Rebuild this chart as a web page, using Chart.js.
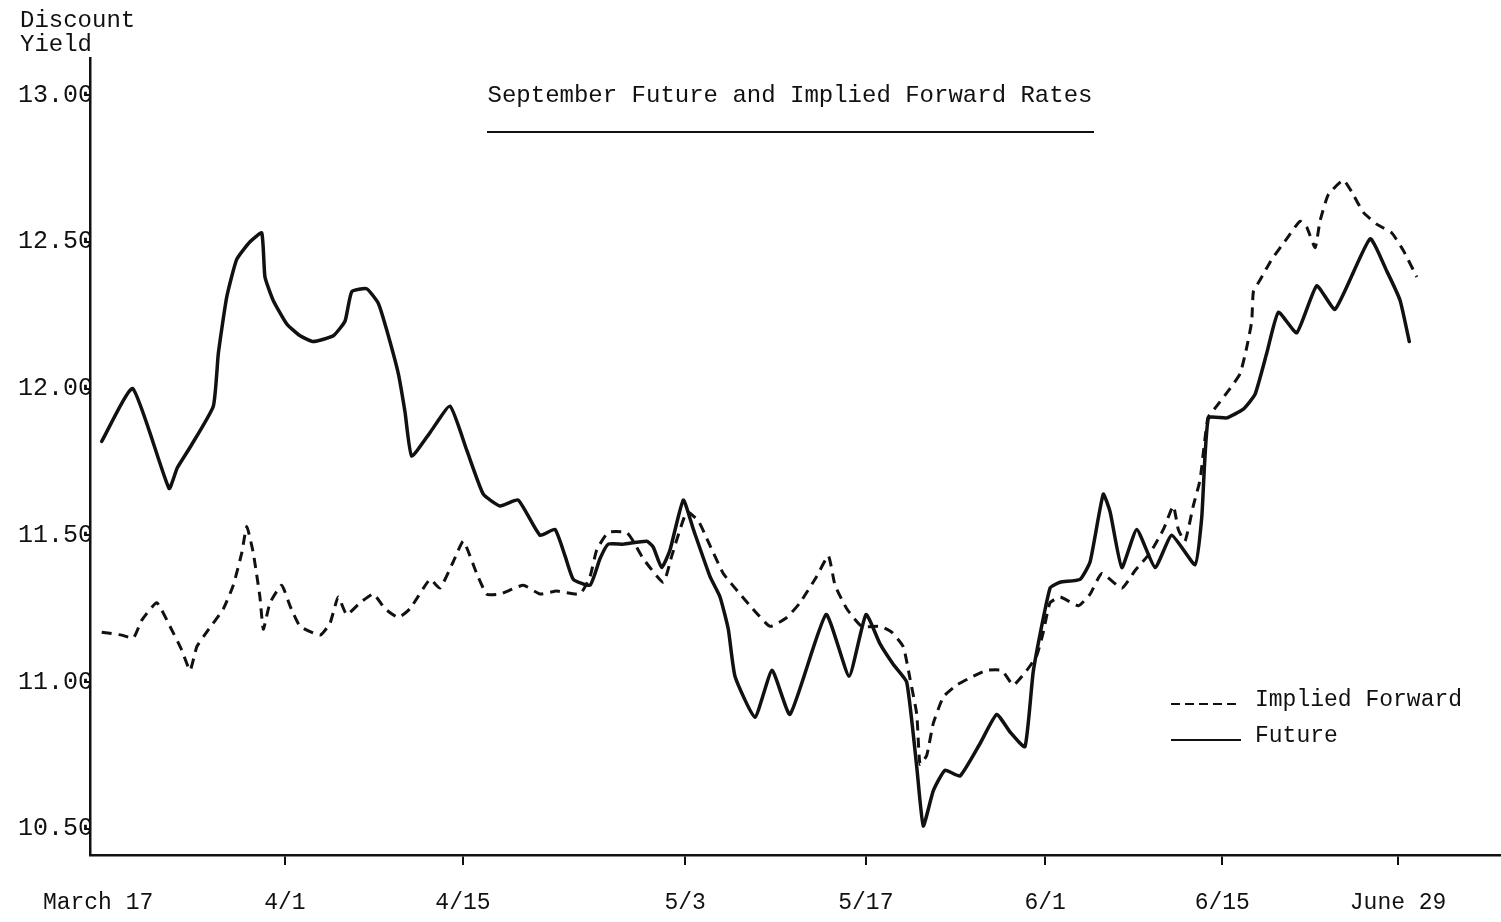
<!DOCTYPE html>
<html>
<head>
<meta charset="utf-8">
<title>September Future and Implied Forward Rates</title>
<script src="https://cdn.jsdelivr.net/npm/chart.js@4.4.1/dist/chart.umd.min.js"></script>
<style>
  html, body { margin: 0; padding: 0; background: #fff; }
  #wrap { width: 1501px; height: 922px; position: relative; }
</style>
</head>
<body>
<div id="wrap"><canvas id="chartTaxas"></canvas></div>
<script>
// trading days counted from March 17
var futureDays = [0.65, 2.37, 4.39, 4.85, 5.56, 6.85, 7.13, 7.59, 8.15, 8.89,
  9.54, 9.72, 10.18, 10.93, 11.67, 12.41, 13.52, 14.17, 14.54, 15.37,
  16.02, 16.48, 17.13, 17.5, 17.87, 18.89, 20.0, 20.93, 21.85, 22.78,
  23.79, 25.0, 25.83, 26.39, 26.85, 27.78, 28.33, 28.79, 29.63, 30.93,
  31.29, 31.76, 32.22, 32.96, 33.52, 34.44, 35.0, 35.46, 35.83, 36.94,
  37.89, 38.89, 40.89, 42.17, 43.11, 43.89, 44.63, 45.37, 45.93, 46.29,
  46.85, 47.5, 48.33, 49.44, 50.37, 51.11, 51.94, 52.41, 53.33, 53.89,
  55.0, 55.56, 56.29, 56.67, 57.32, 58.15, 59.17, 60.09, 61.39, 61.76,
  62.13, 63.15, 64.07, 64.72, 65.37, 66.02, 67.04, 68.15, 69.17, 71.11,
  72.04, 72.78, 73.29];
var futureYield = [11.82, 12.00, 11.66, 11.73, 11.80, 11.94, 12.12, 12.31, 12.44, 12.50,
  12.53, 12.38, 12.30, 12.22, 12.18, 12.16, 12.18, 12.23, 12.33, 12.34,
  12.29, 12.20, 12.05, 11.92, 11.77, 11.85, 11.94, 11.79, 11.64, 11.60,
  11.62, 11.50, 11.52, 11.43, 11.35, 11.33, 11.42, 11.47, 11.47, 11.48,
  11.46, 11.39, 11.45, 11.62, 11.52, 11.36, 11.29, 11.18, 11.02, 10.88,
  11.04, 10.89, 11.23, 11.02, 11.23, 11.13, 11.06, 11.00, 10.71, 10.51,
  10.63, 10.70, 10.68, 10.79, 10.89, 10.83, 10.78, 11.04, 11.32, 11.34,
  11.35, 11.41, 11.64, 11.58, 11.39, 11.52, 11.39, 11.50, 11.40, 11.56,
  11.90, 11.90, 11.93, 11.98, 12.12, 12.26, 12.19, 12.35, 12.27, 12.51,
  12.40, 12.30, 12.16];

var forwardDays = [0.65, 1.76, 2.41, 2.87, 3.71, 4.44, 5.09, 5.56, 5.93, 6.48,
  7.41, 7.96, 8.43, 8.71, 9.07, 9.44, 9.63, 10.0, 10.65, 11.11,
  11.67, 12.78, 13.33, 13.79, 14.26, 15.0, 15.74, 16.39, 17.13, 17.78,
  18.89, 19.44, 20.18, 20.74, 21.48, 22.04, 22.78, 24.07, 25.0, 25.93,
  27.22, 27.78, 28.15, 28.79, 29.81, 30.18, 30.74, 31.85, 32.32, 33.15,
  33.79, 34.26, 35.18, 36.11, 36.67, 37.78, 38.71, 39.44, 40.37, 41.02,
  41.39, 42.04, 42.87, 43.89, 44.54, 45.18, 45.56, 45.93, 46.11, 46.48,
  46.85, 47.41, 48.15, 49.07, 49.81, 50.65, 51.29, 52.04, 52.59, 52.96,
  53.33, 53.89, 54.91, 55.56, 56.21, 57.32, 58.06, 58.89, 59.63, 60.18,
  60.46, 60.83, 61.29, 61.67, 62.1, 62.59, 63.33, 63.89, 64.26, 64.54,
  64.63, 65.0, 65.65, 66.48, 67.22, 67.59, 68.06, 68.33, 68.79, 69.63,
  70.09, 70.74, 71.48, 72.32, 72.96, 73.71];
var forwardYield = [11.17, 11.16, 11.15, 11.21, 11.27, 11.19, 11.11, 11.04, 11.12, 11.17,
  11.25, 11.33, 11.44, 11.53, 11.44, 11.29, 11.18, 11.27, 11.33, 11.26,
  11.19, 11.16, 11.20, 11.29, 11.23, 11.27, 11.30, 11.25, 11.22, 11.25,
  11.35, 11.32, 11.41, 11.48, 11.37, 11.30, 11.30, 11.33, 11.30, 11.31,
  11.30, 11.36, 11.45, 11.51, 11.51, 11.48, 11.42, 11.34, 11.43, 11.58,
  11.55, 11.49, 11.37, 11.30, 11.26, 11.19, 11.22, 11.27, 11.36, 11.43,
  11.33, 11.25, 11.19, 11.19, 11.17, 11.12, 11.01, 10.89, 10.72, 10.75,
  10.86, 10.95, 10.99, 11.02, 11.04, 11.04, 10.99, 11.04, 11.09, 11.17,
  11.27, 11.29, 11.26, 11.30, 11.37, 11.32, 11.38, 11.44, 11.52, 11.60,
  11.52, 11.48, 11.60, 11.69, 11.90, 11.94, 12.00, 12.05, 12.14, 12.23,
  12.33, 12.37, 12.44, 12.51, 12.57, 12.55, 12.48, 12.57, 12.66, 12.71,
  12.67, 12.60, 12.56, 12.53, 12.47, 12.38];

var xTickDays = [0.45, 10.83, 20.72, 33.06, 43.1, 53.06, 62.9, 72.67];
var xTickLabels = ["March 17", "4/1", "4/15", "5/3", "5/17", "6/1", "6/15", "June 29"];
var yTickValues = [10.5, 11.0, 11.5, 12.0, 12.5, 13.0];

var chartTitle = "September Future and Implied Forward Rates";
var yTitleLines = ["Discount", "Yield"];

var FONTE = "'Liberation Mono', 'DejaVu Sans Mono', monospace";
var TINTA = "#111";

function pares(xs, ys) {
  return xs.map(function (x, i) { return { x: x, y: ys[i] }; });
}

// title, axis caption and legend drawn straight onto the canvas
var textosPlugin = {
  id: "textos",
  afterDraw: function (chart) {
    var ctx = chart.ctx;
    ctx.save();
    ctx.fillStyle = TINTA;
    ctx.strokeStyle = TINTA;
    ctx.textBaseline = "middle";

    ctx.font = "24px " + FONTE;
    ctx.textAlign = "left";
    ctx.fillText(yTitleLines[0], 20, 21);
    ctx.fillText(yTitleLines[1], 20, 45);

    ctx.textAlign = "center";
    ctx.fillText(chartTitle, 790, 96);
    ctx.lineWidth = 2;
    ctx.beginPath();
    ctx.moveTo(487, 132);
    ctx.lineTo(1094, 132);
    ctx.stroke();

    var ds = chart.data.datasets;
    ctx.font = "23px " + FONTE;
    ctx.textAlign = "left";
    ctx.lineWidth = 2;
    ctx.setLineDash([9, 5]);
    ctx.beginPath();
    ctx.moveTo(1171, 704);
    ctx.lineTo(1241, 704);
    ctx.stroke();
    ctx.setLineDash([]);
    ctx.beginPath();
    ctx.moveTo(1171, 740);
    ctx.lineTo(1241, 740);
    ctx.stroke();
    ctx.fillText(ds[1].label, 1255, 700);
    ctx.fillText(ds[0].label, 1255, 736);
    ctx.restore();
  }
};

document.addEventListener("DOMContentLoaded", function () {
  var ctx = document.getElementById("chartTaxas").getContext("2d");

  new Chart(ctx, {
    type: "line",
    data: {
      datasets: [
        {
          label: "Future",
          data: pares(futureDays, futureYield),
          borderColor: TINTA,
          borderWidth: 3.5,
          pointRadius: 0,
          tension: 0.15,
          borderJoinStyle: "round",
          borderCapStyle: "round"
        },
        {
          label: "Implied Forward",
          data: pares(forwardDays, forwardYield),
          borderColor: TINTA,
          borderWidth: 3,
          borderDash: [10, 7],
          pointRadius: 0,
          tension: 0.15
        }
      ]
    },
    options: {
      responsive: true,
      maintainAspectRatio: false,
      animation: false,
      layout: { padding: { top: 58, right: 1, left: 0, bottom: 0 } },
      plugins: {
        legend: { display: false },
        title: { display: false },
        tooltip: { enabled: false }
      },
      scales: {
        x: {
          type: "linear",
          min: 0,
          max: 78.33,
          afterFit: function (scale) { scale.height = 67; },
          afterBuildTicks: function (scale) {
            scale.ticks = xTickDays.map(function (v) { return { value: v }; });
          },
          ticks: {
            autoSkip: false,
            maxRotation: 0,
            padding: 24,
            color: TINTA,
            font: { family: FONTE, size: 23 },
            callback: function (value, index) { return xTickLabels[index]; }
          },
          grid: {
            drawOnChartArea: false,
            drawTicks: true,
            tickLength: 10,
            lineWidth: 2,
            color: function (c) { return c.index === 0 ? "rgba(0,0,0,0)" : TINTA; }
          },
          border: { display: true, color: TINTA, width: 2.5 }
        },
        y: {
          min: 10.411,
          max: 13.126,
          afterFit: function (scale) { scale.width = 90; },
          afterBuildTicks: function (scale) {
            scale.ticks = yTickValues.map(function (v) { return { value: v }; });
          },
          ticks: {
            padding: -9,
            color: TINTA,
            font: { family: FONTE, size: 25 },
            callback: function (value) { return Number(value).toFixed(2); }
          },
          grid: {
            drawOnChartArea: false,
            drawTicks: true,
            tickLength: 6,
            lineWidth: 2,
            color: TINTA
          },
          border: { display: true, color: TINTA, width: 2.5 }
        }
      }
    },
    plugins: [textosPlugin]
  });
});
</script>
</body>
</html>
